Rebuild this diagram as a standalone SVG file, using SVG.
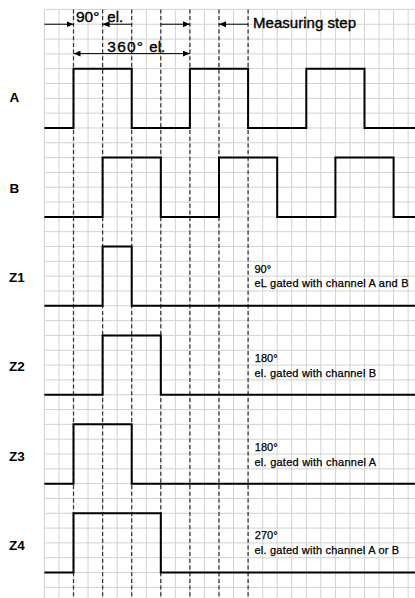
<svg xmlns="http://www.w3.org/2000/svg" width="415" height="598" viewBox="0 0 415 598">
<defs>
<style>
.grid{stroke:#d2d2d2;stroke-width:1;fill:none}
.mark{stroke:#3a3a3a;stroke-width:1.3;stroke-dasharray:4 2.7;fill:none}
.sig{stroke:#000;stroke-width:2;fill:none;stroke-linejoin:miter}
.arr{stroke:#000;stroke-width:1;fill:none}
.lbl{font-family:"Liberation Sans",Arial,sans-serif;font-weight:bold;font-size:13.5px;fill:#000}
.ann{font-family:"Liberation Sans",Arial,sans-serif;font-size:15px;fill:#000;stroke:#000;stroke-width:0.35}
.num{font-family:"Liberation Sans",Arial,sans-serif;font-size:15.5px;fill:#000;stroke:#000;stroke-width:0.35}
.note{font-family:"Liberation Sans",Arial,sans-serif;font-size:11px;fill:#000;stroke:#000;stroke-width:0.25}
</style>
<marker id="ah" viewBox="0 0 7 6" refX="7" refY="3" markerWidth="7" markerHeight="6" markerUnits="userSpaceOnUse" orient="auto-start-reverse">
<path d="M0,0 L7,3 L0,6 z" fill="#000"/>
</marker>
</defs>
<rect width="415" height="598" fill="#fff"/>
<g id="grid">
<path class="grid" d="M44.4,9.4V598M58.95,9.4V598M73.5,9.4V598M88.05,9.4V598M102.6,9.4V598M117.15,9.4V598M131.7,9.4V598M146.25,9.4V598M160.8,9.4V598M175.35,9.4V598M189.9,9.4V598M204.45,9.4V598M219,9.4V598M233.55,9.4V598M248.1,9.4V598M262.65,9.4V598M277.2,9.4V598M291.75,9.4V598M306.3,9.4V598M320.85,9.4V598M335.4,9.4V598M349.95,9.4V598M364.5,9.4V598M379.05,9.4V598M393.6,9.4V598M408.15,9.4V598"/>
<path class="grid" d="M44.4,9.4H415M44.4,24.22H415M44.4,39.04H415M44.4,53.86H415M44.4,68.68H415M44.4,83.5H415M44.4,98.32H415M44.4,113.14H415M44.4,127.96H415M44.4,142.78H415M44.4,157.6H415M44.4,172.42H415M44.4,187.24H415M44.4,202.06H415M44.4,216.88H415M44.4,231.7H415M44.4,246.52H415M44.4,261.34H415M44.4,276.16H415M44.4,290.98H415M44.4,305.8H415M44.4,320.62H415M44.4,335.44H415M44.4,350.26H415M44.4,365.08H415M44.4,379.9H415M44.4,394.72H415M44.4,409.54H415M44.4,424.36H415M44.4,439.18H415M44.4,454H415M44.4,468.82H415M44.4,483.64H415M44.4,498.46H415M44.4,513.28H415M44.4,528.1H415M44.4,542.92H415M44.4,557.74H415M44.4,572.56H415M44.4,587.38H415"/>
</g>
<g id="markers">
<path class="mark" d="M73.5,9.4V598M102.6,9.4V598M131.7,9.4V598M160.8,9.4V598M189.9,9.4V598M219,9.4V598M248.1,9.4V598"/>
</g>
<g id="connectors">
<line class="arr" x1="44.4" y1="24.22" x2="73.5" y2="24.22" marker-end="url(#ah)"/>
<line class="arr" x1="131.7" y1="24.22" x2="102.6" y2="24.22" marker-end="url(#ah)"/>
<line class="arr" x1="160.8" y1="24.22" x2="189.9" y2="24.22" marker-end="url(#ah)"/>
<line class="arr" x1="248.1" y1="24.22" x2="219" y2="24.22" marker-end="url(#ah)"/>
<line class="arr" x1="73.5" y1="53.6" x2="189.9" y2="53.6" marker-start="url(#ah)" marker-end="url(#ah)"/>
</g>
<g id="annotations">
<text class="num" x="76" y="22">90°</text>
<text class="ann" x="107.3" y="22">el.</text>
<text class="num" x="107.3" y="52.3" textLength="35.7" lengthAdjust="spacing">360°</text>
<text class="ann" x="149.3" y="52.3">el.</text>
<text class="ann" x="253" y="28.3" textLength="103" lengthAdjust="spacing">Measuring step</text>
</g>
<g id="signal-A">
<text class="lbl" x="9.5" y="102">A</text>
<path class="sig" d="M44.4,127.96H73.5V68.68H131.7V127.96H189.9V68.68H248.1V127.96H306.3V68.68H364.5V127.96H415"/>
</g>
<g id="signal-B">
<text class="lbl" x="9.5" y="193.3">B</text>
<path class="sig" d="M44.4,216.88H102.6V157.6H160.8V216.88H219V157.6H277.2V216.88H335.4V157.6H393.6V216.88H415"/>
</g>
<g id="signal-Z1">
<text class="lbl" x="9" y="282">Z1</text>
<path class="sig" d="M44.4,305.8H102.6V246.52H131.7V305.8H415"/>
<text class="note" x="254.5" y="272.5">90°</text>
<text class="note" x="254.5" y="286.7" textLength="154" lengthAdjust="spacing">eL gated with channel A and B</text>
</g>
<g id="signal-Z2">
<text class="lbl" x="9" y="371">Z2</text>
<path class="sig" d="M44.4,394.72H102.6V335.44H160.8V394.72H415"/>
<text class="note" x="254.8" y="361.7">180°</text>
<text class="note" x="254.5" y="376.5" textLength="121.7" lengthAdjust="spacing">el. gated with channel B</text>
</g>
<g id="signal-Z3">
<text class="lbl" x="9" y="460.7">Z3</text>
<path class="sig" d="M44.4,483.64H73.5V424.36H131.7V483.64H415"/>
<text class="note" x="254.8" y="450.7">180°</text>
<text class="note" x="254.5" y="465.7" textLength="121.7" lengthAdjust="spacing">el. gated with channel A</text>
</g>
<g id="signal-Z4">
<text class="lbl" x="9" y="550">Z4</text>
<path class="sig" d="M44.4,572.56H73.5V513.28H160.8V572.56H415"/>
<text class="note" x="254.8" y="539">270°</text>
<text class="note" x="254.5" y="554" textLength="144.7" lengthAdjust="spacing">el. gated with channel A or B</text>
</g>
</svg>
